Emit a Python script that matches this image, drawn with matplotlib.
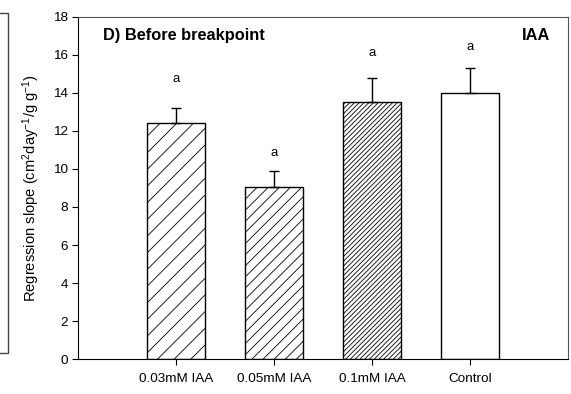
import matplotlib
matplotlib.use("Agg")
import matplotlib.pyplot as plt
from matplotlib.lines import Line2D

plt.rcParams['font.family'] = ['Liberation Sans', 'DejaVu Sans']
plt.rcParams['mathtext.fontset'] = 'custom'
plt.rcParams['mathtext.rm'] = 'Liberation Sans'
plt.rcParams['mathtext.it'] = 'Liberation Sans'
plt.rcParams['hatch.linewidth'] = 0.6

# data
categories = ["0.03mM IAA", "0.05mM IAA", "0.1mM IAA", "Control"]
slopes = [12.4, 9.05, 13.55, 14.0]
errors = [0.8, 0.85, 1.25, 1.33]
letters = ["a", "a", "a", "a"]
letter_y = [14.4, 10.5, 15.8, 16.1]
hatches = ["//", "///", "///////", ""]

fig = plt.figure(figsize=(5.71, 3.94), dpi=100)
ax = fig.add_axes([0.1366, 0.0888, 0.8581, 0.8681])

pos = [1, 2, 3, 4]
for p, v, e, h in zip(pos, slopes, errors, hatches):
    ax.bar(p, v, width=0.6, color="white", edgecolor="black", linewidth=1.0, hatch=h, zorder=2)
    ax.errorbar(p, v, yerr=[[0], [e]], fmt="none", ecolor="black", elinewidth=1.0,
                capsize=3.5, capthick=1.0, zorder=3)
for p, t, y in zip(pos, letters, letter_y):
    ax.text(p, y, t, ha="center", va="bottom", fontsize=9.5)

ax.set_xlim(0, 5)
ax.set_ylim(0, 18)
ax.set_yticks(range(0, 19, 2))
ax.set_xticks(pos)
ax.set_xticklabels(categories, fontsize=9.7)
ax.tick_params(axis="y", labelsize=9.7, direction="out", length=4, pad=3)
ax.tick_params(axis="x", direction="out", length=4, pad=6)
ax.set_ylabel("Regression slope (cm$^2$day$^{-1}$/g g$^{-1}$)", fontsize=10.6, labelpad=8)
for s in ["top", "right"]:
    ax.spines[s].set_color("#555555")

ax.text(0.051, 0.947, "D) Before breakpoint", transform=ax.transAxes, fontsize=11.8,
        fontweight="bold", va="center", ha="left")
ax.text(0.963, 0.947, "IAA", transform=ax.transAxes, fontsize=11.8,
        fontweight="bold", va="center", ha="right")

# edge of the neighbouring panel on the left
x0 = 7.5 / 571
fig.add_artist(Line2D([0, x0, x0, 0], [1 - 13 / 394, 1 - 13 / 394, 1 - 353 / 394, 1 - 353 / 394],
                      transform=fig.transFigure, color="#444444", linewidth=1.0))

fig.savefig("out.png", dpi=100)
